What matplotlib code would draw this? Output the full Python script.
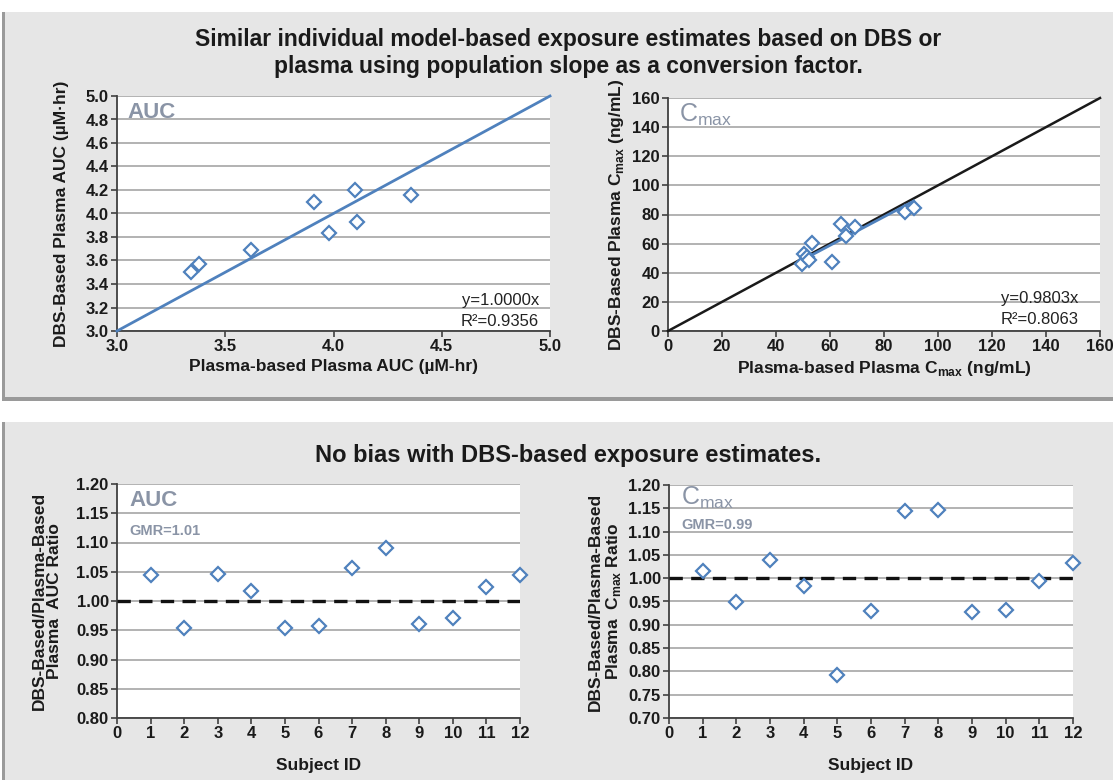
import numpy as np
import matplotlib
matplotlib.use("Agg")
import matplotlib.pyplot as plt
from matplotlib.patches import Rectangle
from matplotlib.ticker import FormatStrFormatter

plt.rcParams['font.family'] = ['Liberation Sans', 'DejaVu Sans']

# AUC: plasma-based vs DBS-based
auc_plasma = [3.34, 3.38, 3.62, 3.91, 3.98, 4.10, 4.11, 4.36]
auc_dbs = [3.50, 3.57, 3.69, 4.10, 3.83, 4.20, 3.93, 4.16]

# Cmax: plasma-based vs DBS-based
cmax_plasma = [49.6, 50.5, 51.6, 52.2, 53.2, 60.8, 63.9, 65.9, 69.2, 87.9, 91.0]
cmax_dbs = [45.7, 52.8, 51.0, 48.7, 60.6, 47.5, 73.2, 65.2, 71.6, 82.0, 84.7]

subjects = [1, 2, 3, 4, 5, 6, 7, 8, 9, 10, 11, 12]
auc_ratio = [1.045, 0.953, 1.046, 1.017, 0.953, 0.958, 1.056, 1.090, 0.961, 0.971, 1.024, 1.044]
cmax_ratio = [1.016, 0.948, 1.040, 0.984, 0.792, 0.930, 1.144, 1.146, 0.927, 0.932, 0.995, 1.032]

W, H = 1113, 780
BLUE = '#4f81bd'
LABEL_GRAY = '#8a94a6'
PANEL = '#e6e6e6'
DARK = '#1a1a1a'


def px_axes(fig, x0, x1, y0, y1):
    # pixel box (top-left origin) -> axes
    return fig.add_axes([x0 / W, (H - y1) / H, (x1 - x0) / W, (y1 - y0) / H])


def style(ax):
    ax.set_facecolor('white')
    ax.grid(True, axis='y', color='#a6a6a6', linewidth=1.2)
    ax.set_axisbelow(True)
    for s in ['top', 'right']:
        ax.spines[s].set_visible(False)
    for s in ['left', 'bottom']:
        ax.spines[s].set_color('#404040')
        ax.spines[s].set_linewidth(1.3)
    ax.tick_params(direction='out', length=4, width=1.2, color='#404040',
                   labelsize=12, labelcolor=DARK, pad=2)
    for lab in ax.get_xticklabels() + ax.get_yticklabels():
        lab.set_fontweight('bold')


def marks(ax, x, y):
    ax.plot(x, y, linestyle='none', marker='D', markersize=7.5,
            markerfacecolor='white', markeredgecolor=BLUE, markeredgewidth=1.6,
            zorder=5, clip_on=False)


def axlabels(ax, xl, yl, xpad=3, ypad=4):
    ax.set_xlabel(xl, fontsize=12.5, fontweight='bold', color=DARK, labelpad=xpad)
    ax.set_ylabel(yl, fontsize=12.5, fontweight='bold', color=DARK, labelpad=ypad,
                  linespacing=1.05)


fig = plt.figure(figsize=(W / 100, H / 100), dpi=100)
fig.patch.set_facecolor('white')

# panels with a soft shadow
for (x0, y0, x1, y1) in [(5, 12, 1113, 397), (5, 422, 1113, 780)]:
    fig.patches.append(Rectangle(((x0 - 3) / W, (H - y1 - 4) / H), (x1 - x0 + 3) / W,
                                 (y1 - y0 + 4) / H, transform=fig.transFigure,
                                 facecolor='#9a9a9a', edgecolor='none', zorder=-3))
    fig.patches.append(Rectangle((x0 / W, (H - y1) / H), (x1 - x0) / W, (y1 - y0) / H,
                                 transform=fig.transFigure, facecolor=PANEL,
                                 edgecolor='none', zorder=-2))

fig.text(568 / W, 1 - 53 / H,
         'Similar individual model-based exposure estimates based on DBS or\n'
         'plasma using population slope as a conversion factor.',
         ha='center', va='center', fontsize=16.5, fontweight='bold',
         color=DARK, linespacing=1.2)
fig.text(568 / W, 1 - 455 / H, 'No bias with DBS-based exposure estimates.',
         ha='center', va='center', fontsize=17, fontweight='bold', color=DARK)

# --- top-left: AUC
ax = px_axes(fig, 117, 550, 96, 331)
ax.set_xlim(3.0, 5.0)
ax.set_ylim(3.0, 5.0)
ax.set_xticks(np.arange(3.0, 5.01, 0.5))
ax.set_yticks(np.arange(3.0, 5.01, 0.2))
ax.xaxis.set_major_formatter(FormatStrFormatter('%.1f'))
ax.yaxis.set_major_formatter(FormatStrFormatter('%.1f'))
style(ax)
ax.plot([3.0, 5.0], [3.0, 5.0], color=BLUE, linewidth=2, zorder=3, clip_on=False)
marks(ax, auc_plasma, auc_dbs)
ax.text(0.025, 0.975, 'AUC', transform=ax.transAxes, ha='left', va='top',
        fontsize=16, fontweight='bold', color=LABEL_GRAY)
ax.text(0.975, 0.13, 'y=1.0000x', transform=ax.transAxes, ha='right', va='center',
        fontsize=12, color='#222222')
ax.text(0.975, 0.04, 'R²=0.9356', transform=ax.transAxes, ha='right', va='center',
        fontsize=12, color='#222222')
axlabels(ax, 'Plasma-based Plasma AUC (µM-hr)', 'DBS-Based Plasma AUC (µM·hr)',
         ypad=12)

# --- top-right: Cmax
ax = px_axes(fig, 668, 1100, 98, 331)
ax.set_xlim(0, 160)
ax.set_ylim(0, 160)
ax.set_xticks(np.arange(0, 161, 20))
ax.set_yticks(np.arange(0, 161, 20))
style(ax)
ax.plot([0, 160], [0, 160], color=DARK, linewidth=1.8, zorder=3, clip_on=False)
fit_x = np.array([min(cmax_plasma), max(cmax_plasma)])
ax.plot(fit_x, 0.9803 * fit_x, color=BLUE, linewidth=2, zorder=4)
marks(ax, cmax_plasma, cmax_dbs)
ax.text(0.025, 0.985, 'C$_{\\mathregular{max}}$', transform=ax.transAxes, ha='left',
        va='top', fontsize=18, color=LABEL_GRAY)
ax.text(0.95, 0.14, 'y=0.9803x', transform=ax.transAxes, ha='right', va='center',
        fontsize=12, color='#222222')
ax.text(0.95, 0.05, 'R²=0.8063', transform=ax.transAxes, ha='right', va='center',
        fontsize=12, color='#222222')
axlabels(ax, 'Plasma-based Plasma C$_{\\mathregular{max}}$ (ng/mL)',
         'DBS-Based Plasma C$_{\\mathregular{max}}$ (ng/mL)')

# --- bottom-left: AUC ratio
ax = px_axes(fig, 117, 520, 484, 718)
ax.set_xlim(0, 12)
ax.set_ylim(0.80, 1.20)
ax.set_xticks(range(0, 13))
ax.set_yticks(np.arange(0.80, 1.201, 0.05))
ax.yaxis.set_major_formatter(FormatStrFormatter('%.2f'))
style(ax)
ax.axhline(1.0, color='#111111', linewidth=2.4, linestyle=(0, (4, 2.5)), zorder=3)
marks(ax, subjects, auc_ratio)
ax.text(0.03, 0.975, 'AUC', transform=ax.transAxes, ha='left', va='top',
        fontsize=16, fontweight='bold', color=LABEL_GRAY)
ax.text(0.03, 0.80, 'GMR=1.01', transform=ax.transAxes, ha='left', va='center',
        fontsize=10.5, fontweight='bold', color=LABEL_GRAY)
axlabels(ax, 'Subject ID', 'DBS-Based/Plasma-Based\nPlasma  AUC Ratio',
         xpad=12, ypad=10)

# --- bottom-right: Cmax ratio
ax = px_axes(fig, 669, 1073, 485, 718)
ax.set_xlim(0, 12)
ax.set_ylim(0.70, 1.20)
ax.set_xticks(range(0, 13))
ax.set_yticks(np.arange(0.70, 1.201, 0.05))
ax.yaxis.set_major_formatter(FormatStrFormatter('%.2f'))
style(ax)
ax.axhline(1.0, color='#111111', linewidth=2.4, linestyle=(0, (4, 2.5)), zorder=3)
marks(ax, subjects, cmax_ratio)
ax.text(0.03, 1.0, 'C$_{\\mathregular{max}}$', transform=ax.transAxes, ha='left',
        va='top', fontsize=18, color=LABEL_GRAY)
ax.text(0.03, 0.83, 'GMR=0.99', transform=ax.transAxes, ha='left', va='center',
        fontsize=10.5, fontweight='bold', color=LABEL_GRAY)
axlabels(ax, 'Subject ID', 'DBS-Based/Plasma-Based\nPlasma  C$_{\\mathregular{max}}$ Ratio',
         xpad=12)

fig.savefig('out.png', dpi=100, facecolor=fig.get_facecolor())
